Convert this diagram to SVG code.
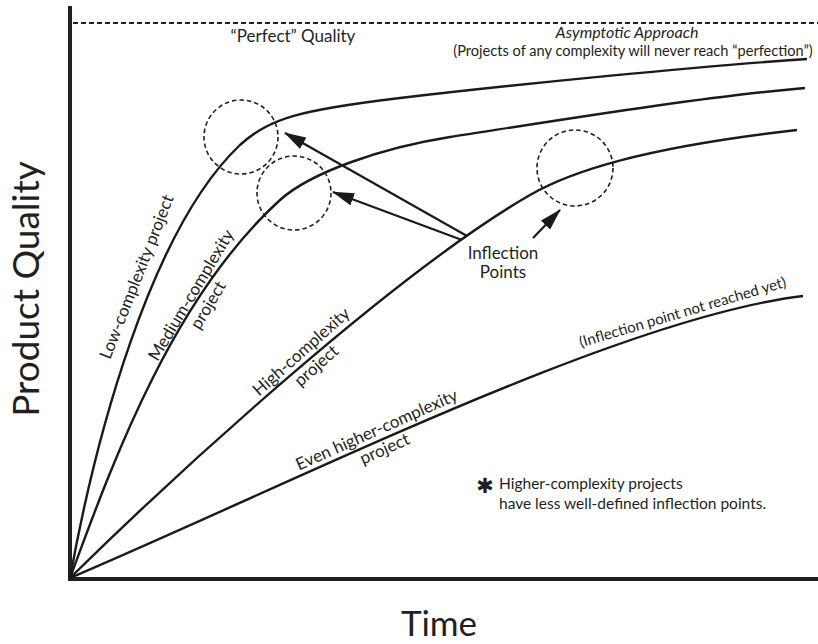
<svg xmlns="http://www.w3.org/2000/svg" width="818" height="644" viewBox="0 0 818 644">
<style>
.curve{fill:none;stroke:#1a1a1a;stroke-width:2.4}
.axis{fill:none;stroke:#231f20;stroke-width:4}
.ring{fill:none;stroke:#231f20;stroke-width:1.6;stroke-dasharray:4.5 3}
.arrow{fill:none;stroke:#1a1a1a;stroke-width:2.2;marker-end:url(#head)}
text{font-family:Lato,"Open Sans","Liberation Sans",sans-serif;fill:#231f20}
.lbl{font-size:17px}
.big{font-size:37px}
</style>
<defs>
<marker id="head" viewBox="0 0 22 13" markerWidth="22" markerHeight="13" refX="21" refY="6.5" orient="auto" markerUnits="userSpaceOnUse">
<path d="M0,0 L22,6.5 L0,13 Z" fill="#1a1a1a"/>
</marker>
</defs>
<rect width="818" height="644" fill="#fff"/>
<g id="axes">
<line class="axis" x1="70" y1="6" x2="70" y2="581"/>
<line class="axis" x1="68" y1="579" x2="818" y2="579"/>
<line x1="73" y1="23" x2="818" y2="23" stroke="#231f20" stroke-width="2" stroke-dasharray="5 3"/>
<text x="439" y="636" text-anchor="middle" font-size="35">Time</text>
<text class="big" transform="translate(39,289) rotate(-90)" text-anchor="middle">Product Quality</text>
<text class="lbl" x="293" y="42" text-anchor="middle">“Perfect” Quality</text>
<text x="627" y="38" text-anchor="middle" font-size="16" font-style="italic">Asymptotic  Approach</text>
<text x="633" y="56" text-anchor="middle" font-size="14.6">(Projects of any complexity will never reach  “perfection”)</text>
</g>
<g id="low">
<path class="curve" d="M70,578 C95,440 150,230 240,145 C270,118 300,110 400,98 C520,84 700,66 807,59"/>
<text class="lbl" transform="translate(142,279) rotate(-68.5)" text-anchor="middle">Low-complexity project</text>
</g>
<g id="medium">
<path class="curve" d="M70,578 C110,470 170,300 280,200 C310,173 380,148 450,137 C560,120 700,97 805,88"/>
<text class="lbl" transform="translate(196,298) rotate(-59)" text-anchor="middle">Medium-complexity</text>
<text class="lbl" transform="translate(213,308) rotate(-59)" text-anchor="middle">project</text>
</g>
<g id="high">
<path class="curve" d="M70,578 C190,460 400,270 530,195 C570,172 640,148 797,130"/>
<text class="lbl" transform="translate(305,356) rotate(-41.6)" text-anchor="middle">High-complexity</text>
<text class="lbl" transform="translate(320,370) rotate(-41.6)" text-anchor="middle">project</text>
</g>
<g id="even-higher">
<path class="curve" d="M70,578 C300,480 620,318 803,296"/>
<text class="lbl" transform="translate(379,435) rotate(-24)" text-anchor="middle">Even higher-complexity</text>
<text class="lbl" transform="translate(387,454) rotate(-24)" text-anchor="middle">project</text>
<text font-size="15" transform="translate(684,317) rotate(-16.5)" text-anchor="middle">(Inflection point not reached yet)</text>
</g>
<g id="inflection-rings">
<circle class="ring" cx="241" cy="137" r="37"/>
<circle class="ring" cx="294" cy="193" r="37"/>
<circle class="ring" cx="575" cy="168" r="38"/>
</g>
<g id="connectors">
<line class="arrow" x1="467" y1="236" x2="285" y2="133"/>
<line class="arrow" x1="462" y1="240" x2="333" y2="192"/>
<line class="arrow" x1="533" y1="238" x2="560" y2="210"/>
</g>
<g id="inflection-label">
<text class="lbl" x="503" y="259" text-anchor="middle">Inflection</text>
<text class="lbl" x="503" y="278" text-anchor="middle">Points</text>
</g>
<g id="footnote">
<text x="485" y="493" font-size="21" text-anchor="middle" style="font-family:'DejaVu Sans',sans-serif">✱</text>
<text x="499" y="489" font-size="15.5">Higher-complexity projects</text>
<text x="499" y="509" font-size="15.5">have less well-defined inflection points.</text>
</g>
</svg>
